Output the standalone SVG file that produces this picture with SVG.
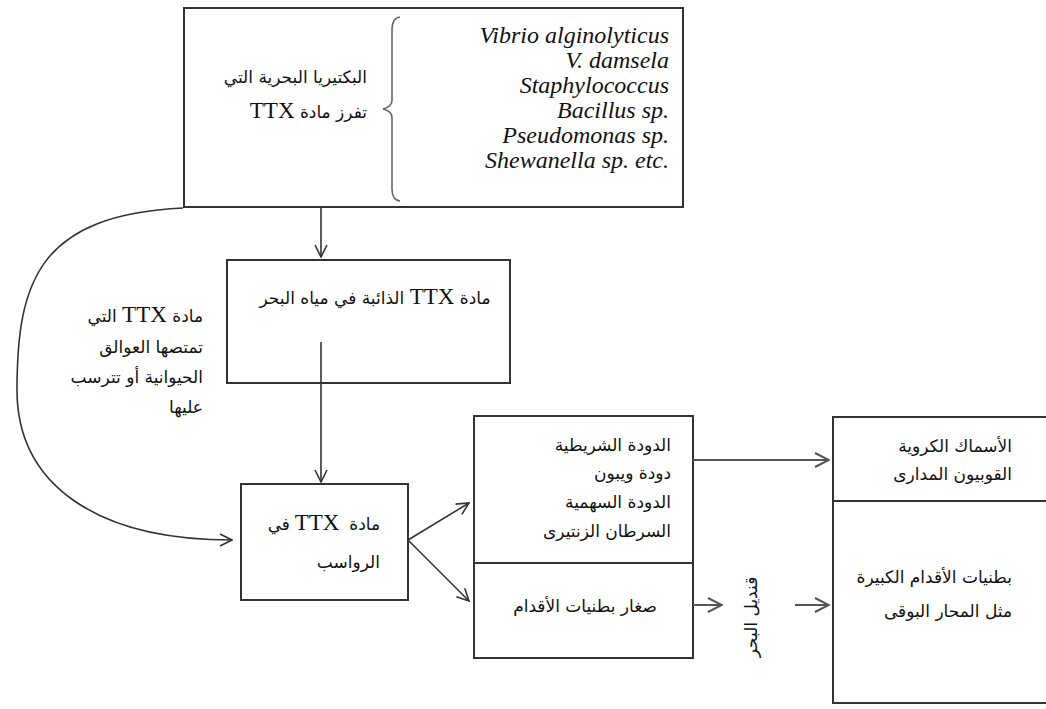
<svg xmlns="http://www.w3.org/2000/svg" width="1046" height="709" viewBox="0 0 1046 709">
<style>
  .box{fill:#fff;stroke:#333;stroke-width:2}
  .ar{font-family:"DejaVu Sans",sans-serif;font-size:17px;fill:#111}
  .ttx{font-family:"Liberation Serif",serif;font-size:23px}
  .it{font-family:"Liberation Serif",serif;font-style:italic;font-size:24px;fill:#111}
  .ln{fill:none;stroke:#333;stroke-width:1.6}
  .ln2{fill:none;stroke:#555;stroke-width:2}
</style>
<defs>
  <marker id="ah" markerWidth="14" markerHeight="14" refX="13" refY="7" orient="auto" markerUnits="userSpaceOnUse">
    <path d="M1,1 L13,7 L1,13" fill="none" stroke="#333" stroke-width="1.6"/>
  </marker>
  <marker id="ah2" markerWidth="16" markerHeight="16" refX="15" refY="8" orient="auto" markerUnits="userSpaceOnUse">
    <path d="M1,1 L15,8 L1,15" fill="none" stroke="#555" stroke-width="2"/>
  </marker>
</defs>
<rect width="1046" height="709" fill="#fff"/>

<g id="bacteria">
  <rect class="box" x="184" y="8" width="499" height="199"/>
  <path d="M400 17 Q392 18 392 30 L392 100 Q392 107 383 109 Q392 111 392 118 L392 189 Q392 200 400 201" fill="none" stroke="#666" stroke-width="1.6"/>
  <text class="ar" direction="rtl" text-anchor="start" x="367" y="83">البكتيريا البحرية التي</text>
  <text class="ar" direction="rtl" text-anchor="start" x="367" y="118">تفرز مادة <tspan class="ttx">TTX</tspan></text>
  <g class="it" text-anchor="end">
    <text x="669" y="43">Vibrio alginolyticus</text>
    <text x="669" y="68">V. damsela</text>
    <text x="669" y="93">Staphylococcus</text>
    <text x="669" y="118">Bacillus sp.</text>
    <text x="669" y="143">Pseudomonas sp.</text>
    <text x="669" y="168">Shewanella sp. etc.</text>
  </g>
</g>

<g id="seawater">
  <rect class="box" x="227" y="260" width="283" height="123"/>
  <text class="ar" direction="rtl" text-anchor="middle" x="375" y="304">مادة <tspan class="ttx">TTX</tspan> الذائبة في مياه البحر</text>
</g>

<g id="plankton-label">
  <text class="ar" direction="rtl" text-anchor="start" x="203" y="322">مادة <tspan class="ttx">TTX</tspan> التي</text>
  <text class="ar" direction="rtl" text-anchor="start" x="203" y="353">تمتصها العوالق</text>
  <text class="ar" direction="rtl" text-anchor="start" x="203" y="383">الحيوانية أو تترسب</text>
  <text class="ar" direction="rtl" text-anchor="start" x="203" y="413">عليها</text>
</g>

<g id="sediment">
  <rect class="box" x="241" y="484" width="167" height="116"/>
  <text class="ar" direction="rtl" text-anchor="start" x="380" y="530">مادة</text>
  <text class="ttx" text-anchor="middle" x="317" y="530" fill="#111">TTX</text>
  <text class="ar" direction="rtl" text-anchor="start" x="290" y="530">في</text>
  <text class="ar" direction="rtl" text-anchor="start" x="380" y="568">الرواسب</text>
</g>

<g id="worms">
  <rect class="box" x="474" y="416" width="219" height="147"/>
  <text class="ar" direction="rtl" text-anchor="start" x="671" y="451">الدودة الشريطية</text>
  <text class="ar" direction="rtl" text-anchor="start" x="671" y="479">دودة ويبون</text>
  <text class="ar" direction="rtl" text-anchor="start" x="671" y="508">الدودة السهمية</text>
  <text class="ar" direction="rtl" text-anchor="start" x="671" y="537">السرطان الزنتيرى</text>
</g>

<g id="small-gastropods">
  <rect class="box" x="474" y="563" width="219" height="95"/>
  <text class="ar" direction="rtl" text-anchor="middle" x="585" y="612">صغار بطنيات الأقدام</text>
</g>

<g id="pufferfish">
  <rect class="box" x="833" y="417" width="230" height="84"/>
  <text class="ar" direction="rtl" text-anchor="start" x="1012" y="452">الأسماك الكروية</text>
  <text class="ar" direction="rtl" text-anchor="start" x="1012" y="480">القوبيون المدارى</text>
</g>

<g id="large-gastropods">
  <rect class="box" x="833" y="501" width="230" height="202"/>
  <text class="ar" direction="rtl" text-anchor="start" x="1012" y="583">بطنيات الأقدام الكبيرة</text>
  <text class="ar" direction="rtl" text-anchor="start" x="1012" y="617">مثل المحار البوقى</text>
</g>

<g id="starfish-label">
  <text class="ar" direction="rtl" text-anchor="middle" font-size="14" transform="translate(757 617) rotate(-90)">قنديل البحر</text>
</g>

<g id="connectors">
  <line class="ln" x1="321" y1="208" x2="321" y2="257" marker-end="url(#ah)"/>
  <line class="ln" x1="321" y1="342" x2="321" y2="482" marker-end="url(#ah)"/>
  <path class="ln" d="M183 208 C40 215 17 280 17 390 C17 480 90 540 232 540" marker-end="url(#ah)"/>
  <line class="ln" x1="408" y1="540" x2="469" y2="503" marker-end="url(#ah)"/>
  <line class="ln" x1="408" y1="540" x2="469" y2="601" marker-end="url(#ah)"/>
  <line class="ln2" x1="693" y1="460" x2="829" y2="460" marker-end="url(#ah2)"/>
  <line class="ln2" x1="693" y1="605" x2="722" y2="605" marker-end="url(#ah2)"/>
  <line class="ln2" x1="795" y1="605" x2="829" y2="605" marker-end="url(#ah2)"/>
</g>
</svg>
